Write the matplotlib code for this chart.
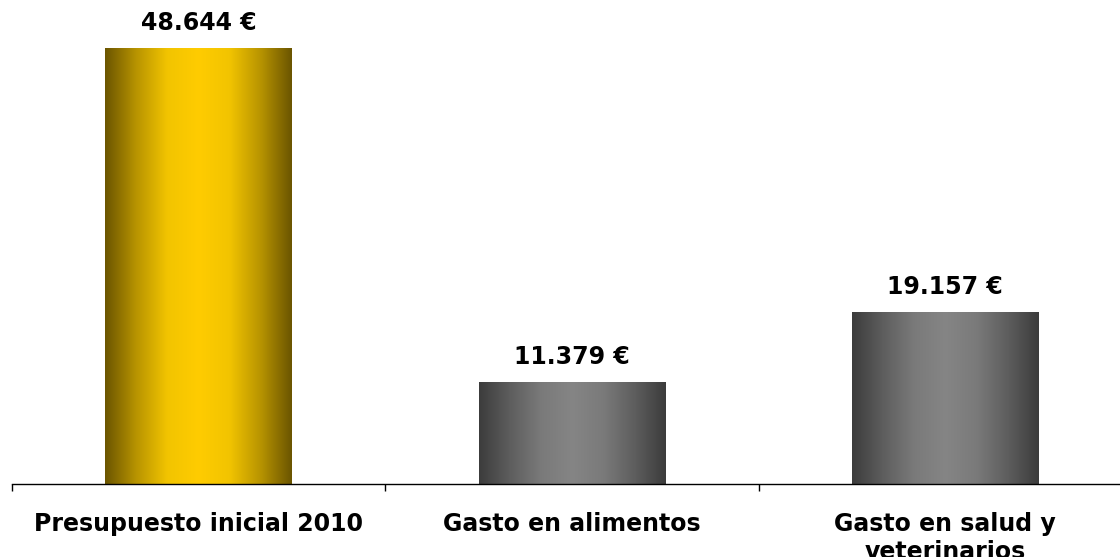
import numpy as np
import matplotlib.pyplot as plt
from matplotlib.colors import LinearSegmentedColormap

# Datos del gráfico
categorias = ['Presupuesto inicial 2010', 'Gasto en alimentos', 'Gasto en salud y\nveterinarios']
importes = [48644, 11379, 19157]
etiquetas = ['48.644 €', '11.379 €', '19.157 €']

# Degradados horizontales (oscuro en los bordes, claro en el centro)
cmap_oro = LinearSegmentedColormap.from_list(
    'oro', ['#6b5500', '#b89400', '#f2c400', '#ffcc00', '#f2c400', '#b89400', '#6b5500'])
cmap_gris = LinearSegmentedColormap.from_list(
    'gris', ['#3c3c3c', '#5e5e5e', '#7a7a7a', '#858585', '#7a7a7a', '#5e5e5e', '#3c3c3c'])
mapas = [cmap_oro, cmap_gris, cmap_gris]

fig = plt.figure(figsize=(11.2, 5.57), dpi=100)
ax = fig.add_axes([12 / 1120, 73 / 557, 1.0, 448 / 557])

x = np.arange(len(categorias))
barras = ax.bar(x, importes, width=0.5, color='none', edgecolor='none')

gradiente = np.linspace(0, 1, 256).reshape(1, -1)
for barra, cmap in zip(barras, mapas):
    x0 = barra.get_x()
    x1 = x0 + barra.get_width()
    h = barra.get_height()
    ax.imshow(gradiente, cmap=cmap, aspect='auto', extent=[x0, x1, 0, h],
              zorder=2, interpolation='bilinear')

for xi, valor, texto in zip(x, importes, etiquetas):
    ax.annotate(texto, (xi, valor), xytext=(0, 25), textcoords='offset pixels',
                ha='center', va='center', fontsize=17, fontweight='bold')

ax.set_xlim(-0.5, 2.5)
ax.set_ylim(0, 50000)

# Solo el eje inferior con marcas entre categorías
for lado in ['top', 'right', 'left']:
    ax.spines[lado].set_visible(False)
ax.spines['bottom'].set_linewidth(1.0)
ax.set_yticks([])
ax.set_xticks(x)
ax.set_xticklabels(categorias, fontsize=17, fontweight='bold', linespacing=1.2)
ax.tick_params(axis='x', which='major', length=0, pad=20)
ax.set_xticks([-0.5, 0.5, 1.5, 2.5], minor=True)
ax.tick_params(axis='x', which='minor', length=5, width=1, direction='out')

fig.savefig('out.png', dpi=100)
